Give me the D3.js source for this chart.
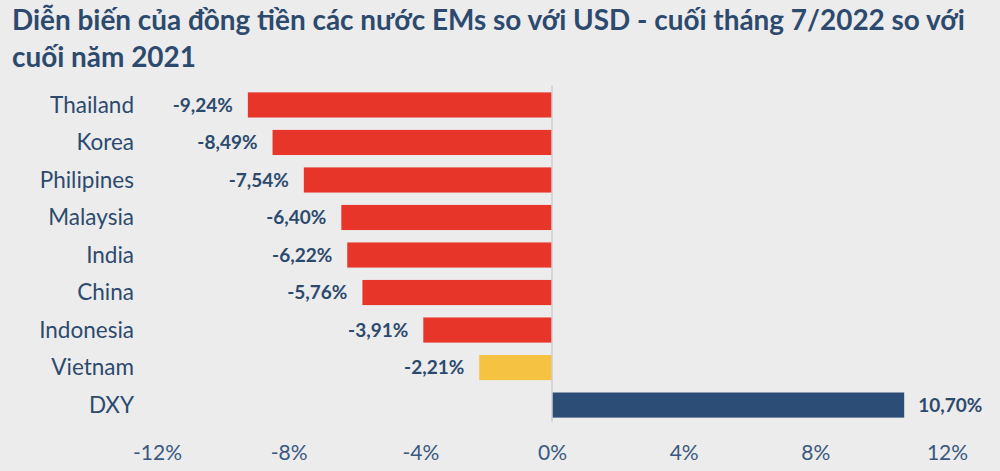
<!DOCTYPE html>
<html><head><meta charset="utf-8">
<script src="https://cdn.jsdelivr.net/npm/d3@7"></script>
<style>
html,body{margin:0;padding:0;background:#ececec;}
svg{display:block;}
</style></head><body>
<svg id="c" width="1000" height="471"></svg>
<script>
const categories = ["Thailand","Korea","Philipines","Malaysia","India","China","Indonesia","Vietnam","DXY"];
const values = [-9.24,-8.49,-7.54,-6.40,-6.22,-5.76,-3.91,-2.21,10.70];
const valueLabels = ["-9,24%","-8,49%","-7,54%","-6,40%","-6,22%","-5,76%","-3,91%","-2,21%","10,70%"];
const tickValues = [-12,-8,-4,0,4,8,12];
const tickLabels = ["-12%","-8%","-4%","0%","4%","8%","12%"];
const titleLines = ["Diễn biến của đồng tiền các nước EMs so với USD - cuối tháng 7/2022 so với","cuối năm 2021"];

const font = "Lato,'Open Sans',sans-serif";
const navy = "#2c4a6e";
const svg = d3.select("#c");

svg.append("rect").attr("width",1000).attr("height",471).attr("fill","#ececec");

const titles = svg.selectAll("text.title").data(titleLines).join("text")
  .attr("x",12).attr("y",(d,i)=>30+i*37)
  .attr("font-family",font).attr("font-weight","bold").attr("font-size",24)
  .attr("fill",navy).text(d=>d);
const w0 = titles.nodes()[0].getComputedTextLength();
titles.attr("font-size",24*953/w0);

const x = d3.scaleLinear().domain([-12,12]).range([157,947]);
const y = d3.scaleBand().domain(categories).range([86,424]).paddingInner(0.33).paddingOuter(0.17);

const colorOf = (c,v)=> c==="Vietnam" ? "#f5c242" : (v<0 ? "#e8352a" : "#2c4e76");

svg.selectAll("rect.bar").data(categories).join("rect")
  .attr("x",(c,i)=>x(Math.min(0,values[i])))
  .attr("y",c=>y(c))
  .attr("width",(c,i)=>Math.abs(x(values[i])-x(0)))
  .attr("height",y.bandwidth())
  .attr("fill",(c,i)=>colorOf(c,values[i]));

svg.append("line").attr("x1",x(0)).attr("x2",x(0)).attr("y1",86).attr("y2",422)
  .attr("stroke","#cfcfcf").attr("stroke-width",1.5);

svg.selectAll("text.cat").data(categories).join("text")
  .attr("x",134).attr("y",c=>y(c)+y.bandwidth()/2).attr("dy","0.35em")
  .attr("text-anchor","end").attr("font-family",font).attr("font-size",22.5)
  .attr("fill",navy).text(c=>c);

svg.selectAll("text.val").data(categories).join("text")
  .attr("x",(c,i)=> values[i]<0 ? x(values[i])-15 : x(values[i])+14)
  .attr("y",c=>y(c)+y.bandwidth()/2).attr("dy","0.35em")
  .attr("text-anchor",(c,i)=>values[i]<0?"end":"start")
  .attr("font-family",font).attr("font-weight","bold").attr("font-size",19)
  .attr("fill",navy).text((c,i)=>valueLabels[i]);

const axis = d3.axisBottom(x).tickValues(tickValues).tickFormat((d,i)=>tickLabels[i]).tickSize(0).tickPadding(0);
const g = svg.append("g").attr("transform","translate(0,445)").call(axis);
g.select(".domain").remove();
g.selectAll("text").attr("font-family",font).attr("font-size",21).attr("fill","#3a5880");
</script>
</body></html>
